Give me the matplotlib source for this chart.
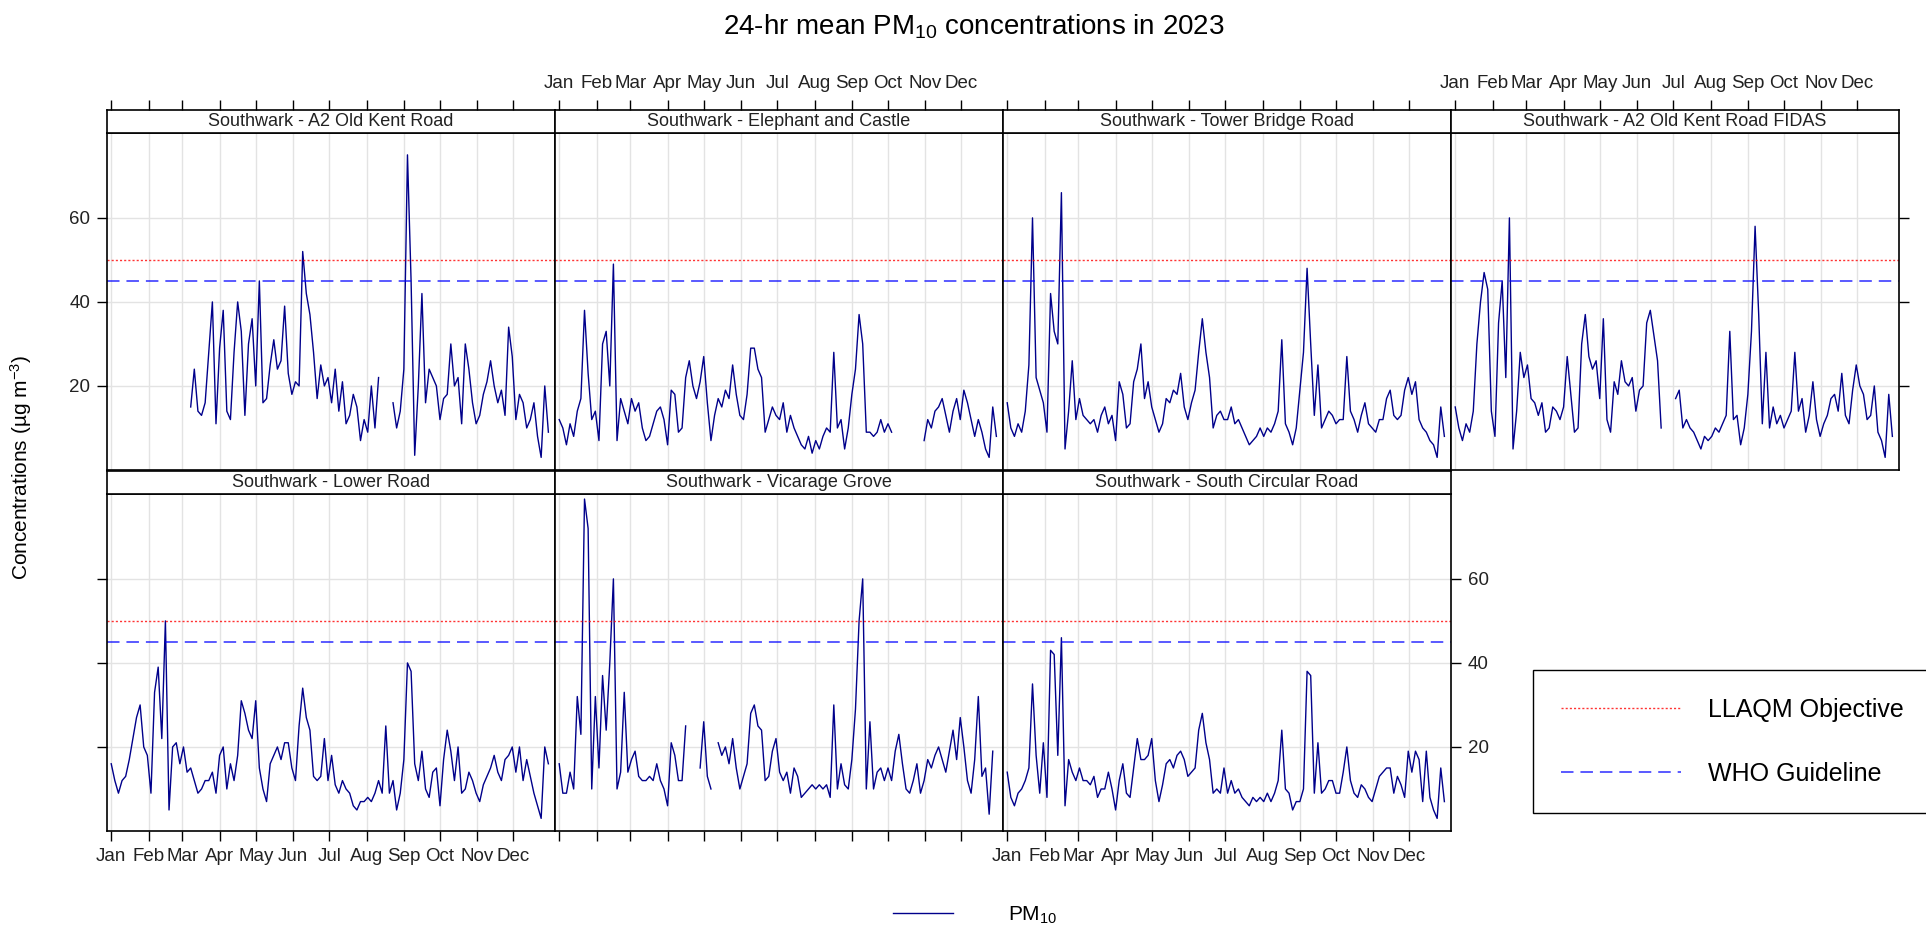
import numpy as np
import pandas as pd
import matplotlib
matplotlib.use('Agg')
import matplotlib.pyplot as plt

plt.rcParams['font.family'] = ['Liberation Sans', 'DejaVu Sans']
plt.rcParams['mathtext.fontset'] = 'custom'
plt.rcParams['mathtext.rm'] = 'Liberation Sans'
plt.rcParams['mathtext.it'] = 'Liberation Sans:italic'
plt.rcParams['lines.scale_dashes'] = False

nan = np.nan

# 24-hr means, one value every 3 days from 1 Jan 2023
dates = pd.date_range('2023-01-01', periods=122, freq='3D')

old_kent_road = [
    nan, nan, nan, nan, nan, nan, nan, nan, nan, nan,
    nan, nan, nan, nan, nan, nan, nan, nan, nan, nan,
    nan, nan, 15, 24, 14, 13, 16, 28, 40, 11,
    29, 38, 14, 12, 28, 40, 33, 13, 30, 36,
    20, 45, 16, 17, 25, 31, 24, 26, 39, 23,
    18, 21, 20, 52, 42, 37, 28, 17, 25, 20,
    22, 16, 24, 14, 21, 11, 13, 18, 15, 7,
    12, 9, 20, 10, 22, nan, nan, nan, 16, 10,
    14, 24, 75, 45, 3.5, 20, 42, 16, 24, 22,
    20, 12, 17, 18, 30, 20, 22, 11, 30, 24,
    16, 11, 13, 18, 21, 26, 20, 16, 19, 13,
    34, 27, 12, 18, 16, 10, 12, 16, 8, 3,
    20, 9]

elephant_castle = [
    12, 10, 6, 11, 8, 14, 17, 38, 23, 12,
    14, 7, 30, 33, 20, 49, 7, 17, 14, 11,
    17, 14, 16, 10, 7, 8, 11, 14, 15, 12,
    6, 19, 18, 9, 10, 22, 26, 20, 17, 21,
    27, 16, 7, 13, 17, 15, 19, 17, 25, 18,
    13, 12, 18, 29, 29, 24, 22, 9, 12, 15,
    13, 12, 16, 9, 13, 10, 8, 6, 5, 8,
    4, 7, 5, 8, 10, 9, 28, 10, 12, 5,
    10, 18, 24, 37, 30, 9, 9, 8, 9, 12,
    9, 11, 9, nan, nan, nan, nan, nan, nan, nan,
    nan, 7, 12, 10, 14, 15, 17, 13, 9, 14,
    17, 12, 19, 16, 12, 8, 12, 9, 5, 3,
    15, 8]

tower_bridge_road = [
    16, 10, 8, 11, 9, 14, 25, 60, 22, 19,
    16, 9, 42, 33, 30, 66, 5, 14, 26, 12,
    17, 13, 12, 11, 12, 9, 13, 15, 11, 13,
    7, 21, 18, 10, 11, 21, 24, 30, 17, 21,
    15, 12, 9, 11, 17, 16, 19, 18, 23, 15,
    12, 16, 19, 28, 36, 28, 22, 10, 13, 14,
    12, 12, 15, 11, 12, 10, 8, 6, 7, 8,
    10, 8, 10, 9, 11, 14, 31, 11, 9, 6,
    10, 19, 28, 48, 30, 13, 25, 10, 12, 14,
    13, 11, 12, 12, 27, 14, 12, 9, 13, 16,
    11, 10, 9, 12, 12, 17, 19, 13, 12, 13,
    19, 22, 18, 21, 12, 10, 9, 7, 6, 3,
    15, 8]

old_kent_road_fidas = [
    15, 10, 7, 11, 9, 14, 30, 40, 47, 43,
    14, 8, 35, 45, 22, 60, 5, 14, 28, 22,
    25, 17, 16, 13, 16, 9, 10, 15, 14, 12,
    15, 27, 18, 9, 10, 30, 37, 27, 24, 26,
    17, 36, 12, 9, 21, 18, 26, 21, 20, 22,
    14, 19, 20, 35, 38, 32, 26, 10, nan, nan,
    nan, 17, 19, 10, 12, 10, 9, 7, 5, 8,
    7, 8, 10, 9, 11, 13, 33, 12, 13, 6,
    10, 18, 33, 58, 37, 11, 28, 10, 15, 11,
    13, 10, 12, 14, 28, 14, 17, 9, 13, 21,
    12, 8, 11, 13, 17, 18, 14, 23, 13, 11,
    19, 25, 20, 18, 12, 13, 20, 9, 7, 3,
    18, 8]

lower_road = [
    16, 12, 9, 12, 13, 17, 22, 27, 30, 20,
    18, 9, 33, 39, 22, 50, 5, 20, 21, 16,
    20, 14, 15, 12, 9, 10, 12, 12, 14, 9,
    18, 20, 10, 16, 12, 18, 31, 28, 24, 22,
    31, 15, 10, 7, 16, 18, 20, 17, 21, 21,
    15, 12, 25, 34, 27, 24, 13, 12, 13, 22,
    12, 18, 11, 9, 12, 10, 9, 6, 5, 7,
    7, 8, 7, 9, 12, 9, 25, 9, 12, 5,
    9, 17, 40, 38, 16, 12, 19, 10, 8, 14,
    15, 6, 17, 24, 19, 12, 20, 9, 10, 14,
    12, 9, 7, 11, 13, 15, 18, 14, 12, 17,
    18, 20, 14, 20, 12, 17, 13, 9, 6, 3,
    20, 16]

vicarage_grove = [
    16, 9, 9, 14, 10, 32, 23, 79, 72, 10,
    32, 15, 37, 24, 40, 60, 10, 14, 33, 14,
    17, 19, 13, 12, 12, 13, 12, 16, 12, 10,
    6, 21, 18, 12, 12, 25, nan, nan, nan, 15,
    26, 13, 10, nan, 21, 18, 20, 16, 22, 15,
    10, 13, 16, 28, 30, 25, 24, 12, 13, 19,
    22, 14, 12, 14, 9, 15, 13, 8, 9, 10,
    11, 10, 11, 10, 11, 8, 30, 10, 16, 11,
    10, 17, 29, 50, 60, 10, 26, 10, 14, 15,
    12, 15, 12, 19, 23, 16, 10, 9, 12, 16,
    9, 12, 17, 15, 18, 20, 17, 14, 19, 24,
    17, 27, 20, 12, 9, 17, 32, 13, 15, 4,
    19, nan]

south_circular_road = [
    14, 8, 6, 9, 10, 12, 15, 35, 18, 9,
    21, 8, 43, 42, 18, 46, 6, 17, 14, 12,
    15, 12, 12, 11, 13, 8, 10, 10, 14, 10,
    5, 12, 16, 9, 8, 15, 22, 17, 17, 18,
    22, 12, 7, 11, 16, 17, 15, 18, 19, 17,
    13, 14, 15, 24, 28, 21, 17, 9, 10, 9,
    15, 9, 12, 9, 10, 8, 7, 6, 8, 7,
    8, 7, 9, 7, 9, 12, 24, 10, 9, 5,
    7, 7, 10, 38, 37, 9, 21, 9, 10, 12,
    12, 9, 9, 14, 20, 12, 9, 8, 11, 10,
    8, 7, 10, 13, 14, 15, 15, 9, 13, 11,
    8, 19, 14, 19, 17, 7, 19, 8, 5, 3,
    15, 7]

site_names = ['Southwark - A2 Old Kent Road', 'Southwark - Elephant and Castle',
              'Southwark - Tower Bridge Road', 'Southwark - A2 Old Kent Road FIDAS',
              'Southwark - Lower Road', 'Southwark - Vicarage Grove',
              'Southwark - South Circular Road']
site_values = [old_kent_road, elephant_castle, tower_bridge_road, old_kent_road_fidas,
               lower_road, vicarage_grove, south_circular_road]

months = ['Jan', 'Feb', 'Mar', 'Apr', 'May', 'Jun', 'Jul', 'Aug', 'Sep', 'Oct', 'Nov', 'Dec']
month_starts = pd.date_range('2023-01-01', periods=12, freq='MS')
llaqm_objective = 50
who_guideline = 45
y_ticks = [20, 40, 60]

W, H = 1926, 930
fig = plt.figure(figsize=(W / 100, H / 100), dpi=100)


def px_axes(x0, y0, x1, y1):
    '''Add axes from a pixel box measured from the top left corner'''
    return fig.add_axes([x0 / W, 1 - y1 / H, (x1 - x0) / W, (y1 - y0) / H])


def month_axis(ax):
    ax.set_xlim(pd.Timestamp('2022-12-28 12:00'), pd.Timestamp('2024-01-04 12:00'))
    ax.set_xticks(month_starts, months)


panel_left = [107, 555, 1003, 1451]
row_top = [133, 494]
panel_w, panel_h, strip_h = 448, 337, 23

for k, (name, values) in enumerate(zip(site_names, site_values)):
    row, col = divmod(k, 4)
    x0, y0 = panel_left[col], row_top[row]
    ax = px_axes(x0, y0, x0 + panel_w, y0 + panel_h)
    pm_line, = ax.plot(dates, values, color='#00008B', lw=1.0)
    llaqm_line = ax.axhline(llaqm_objective, color='red', alpha=0.8, lw=1, ls=(0, (1.5, 1.5)))
    who_line = ax.axhline(who_guideline, color='blue', alpha=0.7, lw=1.3, ls=(0, (9, 5)))
    month_axis(ax)
    ax.set_ylim(0, 80.2)
    ax.set_yticks(y_ticks)
    ax.grid(True, color='#e3e3e3', lw=1)
    ax.set_axisbelow(True)
    ax.tick_params(direction='out', length=7, width=1, labelsize=13.5, pad=5, labelcolor='#222222')
    ax.tick_params(bottom=(row == 1), labelbottom=(row == 1 and col != 1), top=False, labeltop=False,
                   left=(col == 0), labelleft=(k == 0), right=(k in (3, 6)), labelright=(k == 6))
    for s in ax.spines.values():
        s.set_linewidth(1.2)

    strip = px_axes(x0, y0 - strip_h, x0 + panel_w, y0)
    month_axis(strip)
    strip.set_yticks([])
    strip.tick_params(direction='out', length=7, width=1, labelsize=13.5, pad=6, labelcolor='#222222')
    strip.tick_params(bottom=False, labelbottom=False, top=(row == 0), labeltop=(row == 0 and col in (1, 3)))
    for s in strip.spines.values():
        s.set_linewidth(1.2)
    strip.text(0.5, 0.5, name, transform=strip.transAxes, ha='center', va='center', fontsize=13, color='#222222')

fig.text(974 / W, 1 - 27 / H, '24-hr mean PM$_{10}$ concentrations in 2023', ha='center', va='center', fontsize=20)
fig.text(21 / W, 1 - 467 / H, 'Concentrations (µg m$^{-3}$)', rotation=90, ha='center', va='center', fontsize=15)

fig.legend(handles=[pm_line], labels=['PM$_{10}$'], loc='center', bbox_to_anchor=(975 / W, 1 - 915 / H),
           frameon=False, fontsize=15, handlelength=2.9, handletextpad=2.6)

leg = fig.legend(handles=[llaqm_line, who_line], labels=['LLAQM Objective', 'WHO Guideline'],
                 loc='upper left', bbox_to_anchor=(1533 / W, 1 - 670 / H), borderaxespad=0,
                 fontsize=18, handlelength=4.8, handletextpad=1.1, labelspacing=1.6, borderpad=1.1,
                 fancybox=False, edgecolor='black', framealpha=1)
leg.get_frame().set_linewidth(1)

fig.savefig('out.png', dpi=100)
